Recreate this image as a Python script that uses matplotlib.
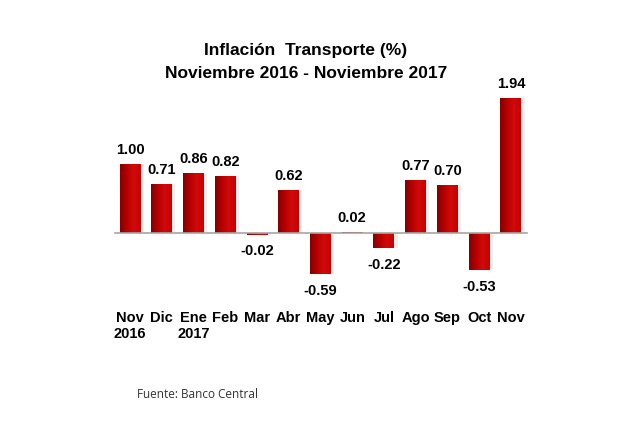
import numpy as np
import matplotlib
matplotlib.use('Agg')
import matplotlib.pyplot as plt
from matplotlib.colors import LinearSegmentedColormap

meses = ['Nov\n2016', 'Dic', 'Ene\n2017', 'Feb', 'Mar', 'Abr', 'May', 'Jun',
         'Jul', 'Ago', 'Sep', 'Oct', 'Nov']
valores = [1.00, 0.71, 0.86, 0.82, -0.02, 0.62, -0.59, 0.02, -0.22, 0.77, 0.70, -0.53, 1.94]
etiquetas = ['1.00', '0.71', '0.86', '0.82', '-0.02', '0.62', '-0.59', '0.02', '-0.22',
             '0.77', '0.70', '-0.53', '1.94']

plt.rcParams['font.family'] = ['Liberation Sans', 'DejaVu Sans']

fig = plt.figure(figsize=(6.4, 4.25), dpi=100)
ax = fig.add_axes([0.172, 0.341, 0.659, 0.447])

x = np.arange(len(valores))
ancho = 0.66

# degradado rojo oscuro -> rojo vivo
cmap = LinearSegmentedColormap.from_list('rojo', ['#820000', '#b80000', '#d00a0a', '#c80000'])
grad = np.linspace(0, 1, 64).reshape(1, -1)

for xi, v in zip(x, valores):
    # sombra
    ax.bar(xi + 0.1, v, ancho, bottom=0, color='#c8c8c8', alpha=0.3, zorder=1, linewidth=0)
    b = ax.bar(xi, v, ancho, color='none', linewidth=0, zorder=2)[0]
    y0, y1 = sorted([0, v])
    im = ax.imshow(grad, cmap=cmap, aspect='auto', extent=[xi - ancho / 2, xi + ancho / 2, y0, y1],
                   zorder=2, interpolation='bicubic')
    im.set_clip_path(b)

ax.axhline(0, xmin=0.012, xmax=0.988, color='#a6a6a6', lw=1.2, zorder=3)

for xi, v, t in zip(x, valores, etiquetas):
    if v >= 0:
        ax.annotate(t, (xi, v), xytext=(0, 5), textcoords='offset points',
                    ha='center', va='bottom', fontsize=10.5, fontweight='bold')
    else:
        ax.annotate(t, (xi, v), xytext=(0, -7), textcoords='offset points',
                    ha='center', va='top', fontsize=10.5, fontweight='bold')

ax.set_xlim(-0.63, 12.66)
ax.set_ylim(-0.676, 2.06)
ax.axis('off')

for xi, m in zip(x, meses):
    fig.text((110 + (xi + 0.63) * 31.75) / 640, 1 - 311 / 425, m, ha='center', va='top',
             fontsize=10.5, fontweight='bold', linespacing=1.15)

fig.text(306 / 640, 1 - 50 / 425, 'Inflación  Transporte (%)', ha='center', va='center',
         fontsize=12.5, fontweight='bold')
fig.text(306 / 640, 1 - 73 / 425, 'Noviembre 2016 - Noviembre 2017', ha='center', va='center',
         fontsize=12.5, fontweight='bold')
fig.text(137 / 640, 1 - 395 / 425, 'Fuente: Banco Central', ha='left', va='center',
         fontsize=8.5, family=['Open Sans', 'DejaVu Sans'], color='#333333')

fig.savefig('out.png', dpi=100)
